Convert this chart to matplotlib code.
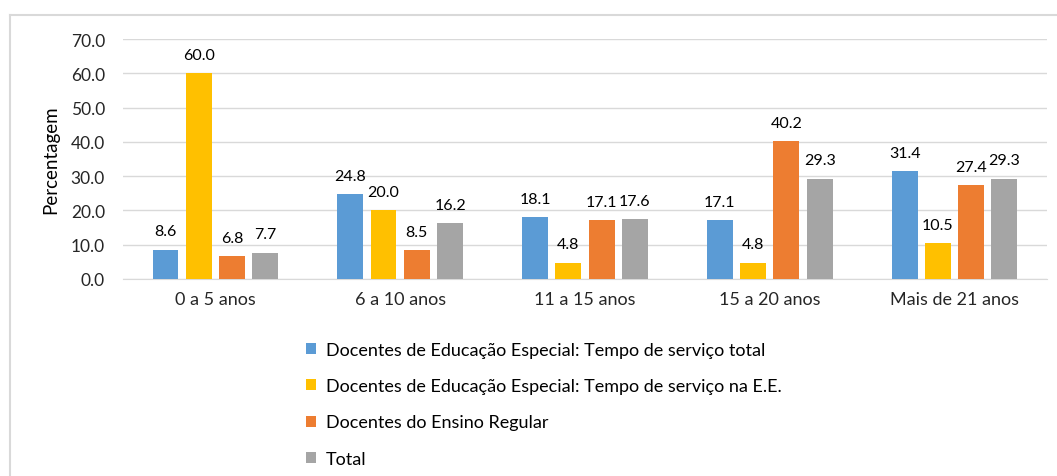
import numpy as np
import matplotlib.pyplot as plt
from matplotlib.lines import Line2D

plt.rcParams['font.family'] = ['Lato', 'DejaVu Sans']

categorias = ['0 a 5 anos', '6 a 10 anos', '11 a 15 anos', '15 a 20 anos', 'Mais de 21 anos']
series = ['Docentes de Educação Especial: Tempo de serviço total',
          'Docentes de Educação Especial: Tempo de serviço na E.E.',
          'Docentes do Ensino Regular',
          'Total']
ee_total = [8.6, 24.8, 18.1, 17.1, 31.4]
ee_servico = [60.0, 20.0, 4.8, 4.8, 10.5]
regular = [6.8, 8.5, 17.1, 40.2, 27.4]
total = [7.7, 16.2, 17.6, 29.3, 29.3]
cores = ['#5B9BD5', '#FFC000', '#ED7D31', '#A5A5A5']

valores = [ee_total, ee_servico, regular, total]

fig = plt.figure(figsize=(10.57, 4.77), dpi=100)
ax = fig.add_axes([0.1164, 0.413, 0.874, 0.503])

x = np.arange(len(categorias))
larg = 0.14
passo = 0.18
for i, (vals, cor, nome) in enumerate(zip(valores, cores, series)):
    pos = x + (i - 1.5) * passo
    bars = ax.bar(pos, vals, width=larg, color=cor, label=nome, zorder=3)
    for b, v in zip(bars, vals):
        ax.annotate('%.1f' % v, (b.get_x() + b.get_width() / 2, v),
                    xytext=(0, 8), textcoords='offset points',
                    ha='center', va='bottom', fontsize=11.5, color='#000000')

ax.set_xlim(-0.5, len(categorias) - 0.5)
ax.set_ylim(0, 70)
ax.set_yticks(np.arange(0, 71, 10))
ax.set_yticklabels(['%.1f' % t for t in np.arange(0, 71, 10)], fontsize=12.5, color='#262626')
ax.set_xticks(x)
ax.set_xticklabels(categorias, fontsize=13, color='#262626')
ax.tick_params(axis='both', length=0)
ax.tick_params(axis='y', pad=13)
ax.tick_params(axis='x', pad=9)
ax.grid(axis='y', color='#d9d9d9', linewidth=1, zorder=0)
for s in ['top', 'right', 'left']:
    ax.spines[s].set_visible(False)
ax.spines['bottom'].set_color('#d9d9d9')
ax.set_ylabel('Percentagem', fontsize=13.5, color='#000000')
ax.yaxis.set_label_coords(-0.069, 0.5)

fig.legend(loc='upper left', bbox_to_anchor=(0.283, 0.296), frameon=False,
           fontsize=13, handlelength=0.55, handleheight=0.55, handletextpad=0.55,
           labelspacing=1.12, borderaxespad=0)

# moldura do grafico (topo e esquerda)
fig.add_artist(Line2D([10 / 1057, 1.0], [1 - 16 / 477, 1 - 16 / 477], color='#d9d9d9',
                      linewidth=1.5, transform=fig.transFigure))
fig.add_artist(Line2D([10 / 1057, 10 / 1057], [0, 1 - 16 / 477], color='#d9d9d9',
                      linewidth=1.5, transform=fig.transFigure))

fig.savefig('out.png', dpi=100)
